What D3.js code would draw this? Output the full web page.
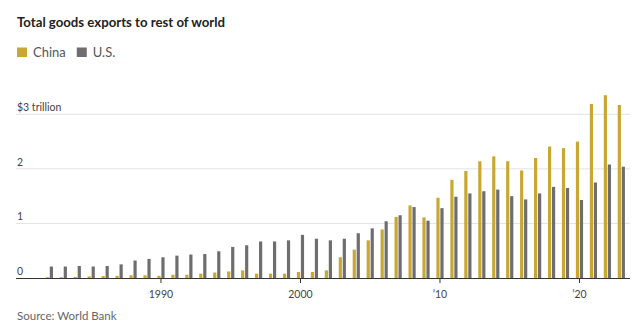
<!DOCTYPE html>
<html><head><meta charset="utf-8">
<script src="https://cdn.jsdelivr.net/npm/d3@7"></script>
<style>
html,body{margin:0;padding:0;background:#fff;}
svg{display:block;font-family:Lato,"Open Sans",sans-serif;}
</style></head>
<body>
<svg id="chart" width="640" height="327"></svg>
<script>
const years = d3.range(1982, 2024);
const china = [0.015,0.015,0.02,0.03,0.035,0.04,0.05,0.05,0.04,0.06,0.06,0.08,0.10,0.12,0.14,0.08,0.08,0.08,0.11,0.11,0.14,0.38,0.52,0.69,0.89,1.12,1.33,1.11,1.47,1.80,1.96,2.14,2.23,2.14,1.97,2.20,2.41,2.38,2.50,3.19,3.35,3.17];
const us = [0.21,0.21,0.22,0.21,0.22,0.25,0.32,0.35,0.38,0.41,0.43,0.44,0.49,0.57,0.60,0.67,0.67,0.69,0.79,0.72,0.69,0.72,0.82,0.91,1.04,1.15,1.30,1.05,1.28,1.49,1.55,1.59,1.62,1.50,1.44,1.55,1.67,1.65,1.43,1.75,2.08,2.04];
const seriesNames = ["China", "U.S."];
const seriesColors = ["#c8a733", "#6e6e6e"];
const yTicks = [0, 1, 2, 3];
const yTickLabels = ["0", "1", "2", "$3 trillion"];
const xTicks = [1990, 2000, 2010, 2020];
const xTickLabels = ["1990", "2000", "\u201910", "\u201920"];

const svg = d3.select("#chart");
const plotLeft = 16, plotRight = 630, plotBase = 278, plotTop = 114.3;

const x = d3.scaleBand().domain(years).range([42.4, 628.3]).padding(0);
const xs = d3.scaleBand().domain(seriesNames).range([-3.6, 3.6]).paddingInner(0.2);
const y = d3.scaleLinear().domain([0, 3]).range([plotBase, plotTop]);
const cx = yr => x(yr) + x.bandwidth() / 2;

// title
svg.append("text").attr("x", 17).attr("y", 27)
  .attr("font-size", 14).attr("font-weight", 700).attr("fill", "#222")
  .attr("textLength", 208).attr("lengthAdjust", "spacingAndGlyphs")
  .text("Total goods exports to rest of world");

// legend
const leg = svg.append("g");
let lx = 17;
seriesNames.forEach((n, i) => {
  leg.append("rect").attr("x", lx).attr("y", 47.5).attr("width", 10).attr("height", 9.5).attr("fill", seriesColors[i]);
  const t = leg.append("text").attr("x", lx + 16).attr("y", 57).attr("font-size", 13).attr("fill", "#555").text(n);
  lx += 16 + t.node().getComputedTextLength() + 11;
});

// gridlines
svg.append("g").selectAll("line").data(yTicks.filter(d => d > 0)).join("line")
  .attr("x1", plotLeft).attr("x2", plotRight).attr("y1", d => y(d)).attr("y2", d => y(d))
  .attr("stroke", "#e2e2e2").attr("stroke-width", 1);

// y labels
svg.append("g").selectAll("text").data(yTicks).join("text")
  .attr("x", 17).attr("y", d => y(d) - 3)
  .attr("font-size", 10.5).attr("fill", "#444")
  .text((d, i) => yTickLabels[i]);

// bars
const data = years.map((yr, i) => ({yr, vals: [china[i], us[i]]}));
const groups = svg.append("g").selectAll("g").data(data).join("g");
groups.selectAll("rect").data(d => d.vals.map((v, j) => ({yr: d.yr, v, s: seriesNames[j], c: seriesColors[j]}))).join("rect")
  .attr("x", d => cx(d.yr) + xs(d.s))
  .attr("width", xs.bandwidth())
  .attr("y", d => y(d.v))
  .attr("height", d => plotBase - y(d.v))
  .attr("fill", d => d.c);

// baseline
svg.append("line").attr("x1", plotLeft).attr("x2", plotRight).attr("y1", plotBase + 0.5).attr("y2", plotBase + 0.5)
  .attr("stroke", "#333").attr("stroke-width", 1.2);

// x ticks
svg.append("g").selectAll("line").data(xTicks).join("line")
  .attr("x1", d => cx(d)).attr("x2", d => cx(d)).attr("y1", plotBase).attr("y2", plotBase + 5)
  .attr("stroke", "#333").attr("stroke-width", 1);
svg.append("g").selectAll("text").data(xTicks).join("text")
  .attr("x", d => cx(d)).attr("y", 298).attr("text-anchor", "middle")
  .attr("font-size", 10.5).attr("fill", "#444")
  .text((d, i) => xTickLabels[i]);

// source
svg.append("text").attr("x", 17).attr("y", 320).attr("font-size", 11.5).attr("fill", "#666").text("Source: World Bank");
</script>
</body></html>
